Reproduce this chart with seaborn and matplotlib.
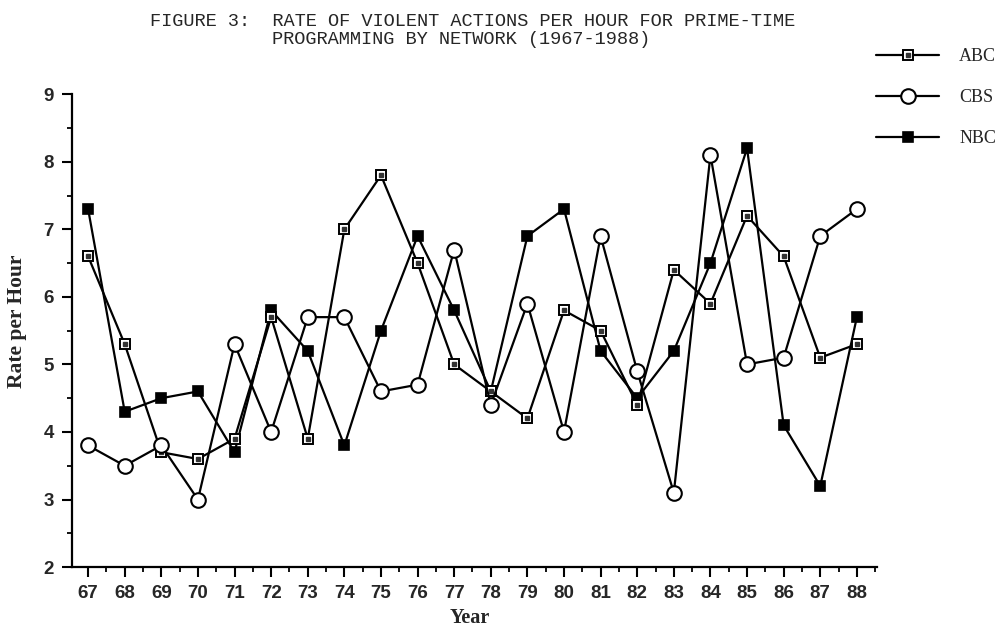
import matplotlib
matplotlib.use("Agg")
import matplotlib.pyplot as plt
from matplotlib.ticker import MultipleLocator
import seaborn as sns
import pandas as pd

years = list(range(67, 89))
abc = [6.6, 5.3, 3.7, 3.6, 3.9, 5.7, 3.9, 7.0, 7.8, 6.5, 5.0,
       4.6, 4.2, 5.8, 5.5, 4.4, 6.4, 5.9, 7.2, 6.6, 5.1, 5.3]
cbs = [3.8, 3.5, 3.8, 3.0, 5.3, 4.0, 5.7, 5.7, 4.6, 4.7, 6.7,
       4.4, 5.9, 4.0, 6.9, 4.9, 3.1, 8.1, 5.0, 5.1, 6.9, 7.3]
nbc = [7.3, 4.3, 4.5, 4.6, 3.7, 5.8, 5.2, 3.8, 5.5, 6.9, 5.8,
       4.6, 6.9, 7.3, 5.2, 4.5, 5.2, 6.5, 8.2, 4.1, 3.2, 5.7]

df = pd.DataFrame({"Year": years, "ABC": abc, "CBS": cbs, "NBC": nbc})

sns.set_style("white")
plt.rcParams["font.family"] = ["Liberation Sans", "DejaVu Sans"]

fig = plt.figure(figsize=(10, 6.28), dpi=100)
ax = fig.add_axes([0.072, 0.097, 0.805, 0.753])

lw = 1.6
sns.lineplot(data=df, x="Year", y="NBC", ax=ax, color="black", lw=lw,
             marker="s", markersize=7.5, markerfacecolor="black",
             markeredgecolor="black", markeredgewidth=1.2)
sns.lineplot(data=df, x="Year", y="ABC", ax=ax, color="black", lw=lw,
             marker="s", markersize=7.5, markerfacecolor="white",
             markeredgecolor="black", markeredgewidth=1.4)
# small dot inside the ABC squares
ax.plot(df["Year"], df["ABC"], ls="none", marker="s", ms=2.2,
        mfc="#333333", mec="#333333")
sns.lineplot(data=df, x="Year", y="CBS", ax=ax, color="black", lw=lw,
             marker="o", markersize=10.5, markerfacecolor="white",
             markeredgecolor="black", markeredgewidth=1.5)

lines = ax.get_lines()
nbc_line, abc_line, abc_dot, cbs_line = lines[0], lines[1], lines[2], lines[3]

ax.set_xlim(66.56, 88.55)
ax.set_ylim(2, 9)
ax.set_xticks(years)
ax.set_yticks(range(2, 10))
ax.xaxis.set_minor_locator(MultipleLocator(0.5))
ax.yaxis.set_minor_locator(MultipleLocator(0.5))
ax.tick_params(axis="both", which="major", direction="out", length=7,
               width=1.5, color="black", labelsize=13.5)
ax.tick_params(axis="both", which="minor", direction="out", length=3.5,
               width=1.3, color="black")
ax.tick_params(axis="x", which="major", pad=6)
ax.tick_params(axis="y", which="major", pad=6)
ax.tick_params(bottom=True, left=True, which="both")
for lbl in ax.get_xticklabels() + ax.get_yticklabels():
    lbl.set_fontweight("bold")

for side in ["top", "right"]:
    ax.spines[side].set_visible(False)
for side in ["left", "bottom"]:
    ax.spines[side].set_color("black")
    ax.spines[side].set_linewidth(1.6)
ax.grid(False)

ax.set_xlabel("Year", family="Liberation Serif", fontweight="bold", fontsize=14.5)
ax.set_ylabel("Rate per Hour", family="Liberation Serif", fontweight="bold",
              fontsize=15.5)
ax.xaxis.set_label_coords(0.494, -0.086)
ax.yaxis.set_label_coords(-0.056, 0.519)

fig.text(0.150, 1 - 22 / 628,
         "FIGURE 3:  RATE OF VIOLENT ACTIONS PER HOUR FOR PRIME-TIME",
         family="Liberation Mono", fontsize=13.4, ha="left", va="center")
fig.text(0.272, 1 - 40 / 628, "PROGRAMMING BY NETWORK (1967-1988)",
         family="Liberation Mono", fontsize=13.4, ha="left", va="center")

if ax.get_legend() is not None:
    ax.get_legend().remove()
fig.legend([(abc_line, abc_dot), cbs_line, nbc_line], ["ABC", "CBS", "NBC"],
           loc="upper left", bbox_to_anchor=(0.876, 0.923), frameon=False,
           borderpad=0, borderaxespad=0, handlelength=3.5, handletextpad=1.1,
           labelspacing=1.33, prop={"family": "Liberation Serif", "size": 13})

fig.savefig("out.png", dpi=100)
